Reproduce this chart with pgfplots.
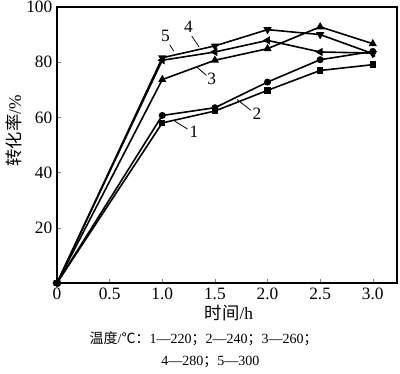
\documentclass[border=0pt]{standalone}
\usepackage{pgfplots}
\pgfplotsset{compat=1.18}
\usepackage{fontspec}
\setmainfont{Liberation Serif}
\newfontfamily\cjk{Noto Sans CJK SC}
\begin{document}
\begin{tikzpicture}[x=1pt,y=1pt]
\useasboundingbox (-42.75,-68.25) rectangle (257.25,212.25);
\begin{axis}[
  scale only axis,
  width=255pt, height=207pt,
  xmin=0, xmax=3.23, ymin=0, ymax=100,
  xtick={0,0.5,1,1.5,2,2.5,3},
  xticklabels={0,0.5,1.0,1.5,2.0,2.5,3.0},
  ytick={20,40,60,80,100},
  tick align=inside,
  xtick pos=bottom, ytick pos=left,
  major tick length=3pt,
  axis line style={line width=0.8pt},
  /pgf/number format/assume math mode=true,
  tick label style={font=\fontsize{13}{14}\selectfont},
  clip=false,
  every axis plot/.append style={black, line width=1.2pt, mark size=2.4pt},
]
\addplot[mark=square*, mark size=1.8pt] coordinates {(0,0) (1,58) (1.5,62.3) (2,69.8) (2.5,77) (3,79.1)};
\addplot[mark=*, mark size=2pt] coordinates {(0,0) (1,60.7) (1.5,63.5) (2,72.8) (2.5,80.9) (3,83.9)};
\addplot[mark=triangle*] coordinates {(0,0) (1,73.7) (1.5,80.7) (2,84.9) (2.5,92.8) (3,86.7)};
\addplot[mark=triangle*, mark options={rotate=90}] coordinates {(0,0) (1,80.7) (1.5,83.7) (2,87.9) (2.5,83.7) (3,83.3)};
\addplot[mark=triangle*, mark options={rotate=180}] coordinates {(0,0) (1,81.6) (1.5,85.9) (2,91.8) (2.5,90) (3,83.1)};
% labels
\node[font=\fontsize{13}{14}\selectfont] at (axis cs:1.03,89.7) {5};
\draw[line width=0.6pt] (axis cs:1.07,86.3) -- (axis cs:1.11,84.0);
\node[font=\fontsize{13}{14}\selectfont] at (axis cs:1.25,93.0) {4};
\draw[line width=0.6pt] (axis cs:1.28,89.5) -- (axis cs:1.35,85.5);
\node[font=\fontsize{13}{14}\selectfont] at (axis cs:1.47,74.0) {3};
\draw[line width=0.6pt] (axis cs:1.33,78.2) -- (axis cs:1.42,75.2);
\node[font=\fontsize{13}{14}\selectfont] at (axis cs:1.9,61.4) {2};
\draw[line width=0.6pt] (axis cs:1.71,66.5) -- (axis cs:1.84,62.6);
\node[font=\fontsize{13}{14}\selectfont] at (axis cs:1.3,54.7) {1};
\draw[line width=0.6pt] (axis cs:1.12,58.6) -- (axis cs:1.24,55.8);
\end{axis}
\node[rotate=90, font=\fontsize{13}{14}\selectfont] at (-32,114) {{\cjk 转化率}/\%};
\node[font=\fontsize{13}{14}\selectfont] at (129,-22.5) {{\cjk 时间}/h};
\node[font=\fontsize{10.5}{11}\selectfont] at (110,-42) {{\cjk 温度}/{\cjk ℃：}1—220{\cjk ；}2—240{\cjk ；}3—260{\cjk ；}};
\node[font=\fontsize{10.5}{11}\selectfont] at (115,-59) {4—280{\cjk ；}5—300};
\end{tikzpicture}
\end{document}
